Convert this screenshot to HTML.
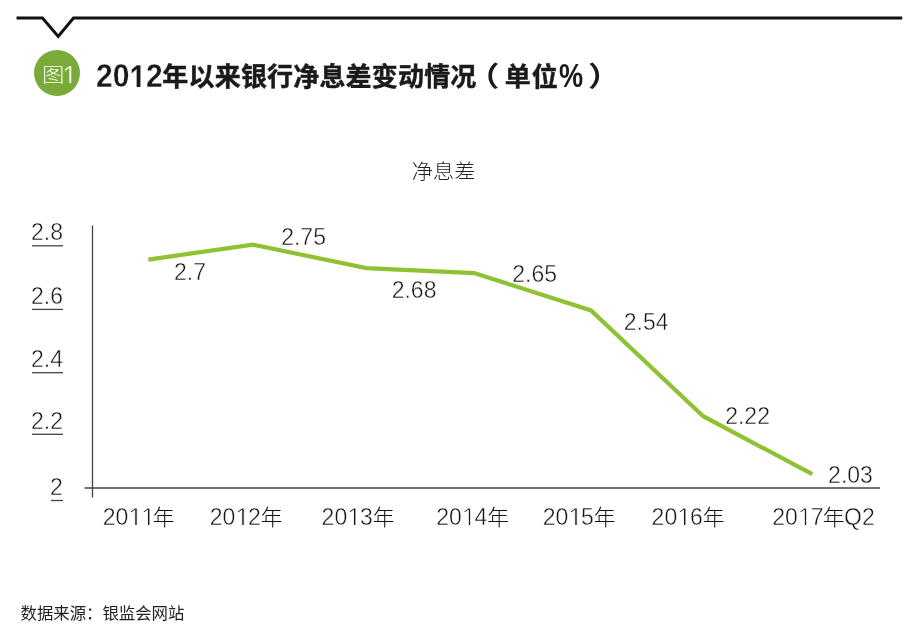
<!DOCTYPE html>
<html lang="zh-CN">
<head>
<meta charset="utf-8">
<title>2012年以来银行净息差变动情况（单位%）</title>
<style>
html,body{margin:0;padding:0;background:#fff;}
body{width:917px;height:636px;overflow:hidden;position:relative;
  font-family:"Liberation Sans","Noto Sans CJK SC",sans-serif;color:#333;}
svg{position:absolute;left:0;top:0;display:block;}
.t{position:absolute;white-space:nowrap;line-height:1;margin:0;}
.badge{left:33.5px;top:49.8px;width:46.7px;height:46.7px;border-radius:50%;background:#7aaa37;position:absolute;}
.badge span{position:absolute;left:0;top:0;color:#fff;white-space:nowrap;line-height:1;}
.badge .g{left:8.3px;top:15.9px;font-size:21.2px;font-weight:300;transform:scale(1.06,0.895);transform-origin:0 0;}
.badge .o{left:28.7px;top:12.8px;font-size:27px;font-weight:400;-webkit-text-stroke:0.5px #7aaa37;height:20.4px;overflow:hidden;}
h1.t{left:95.5px;top:59px;font-size:26px;font-weight:700;color:#1a1a1a;line-height:32px;letter-spacing:0.18px;}
h1 .n{font-size:32.3px;letter-spacing:0;-webkit-text-stroke:0.3px #fff;display:inline-block;position:relative;top:1.2px;transform:scaleX(0.93);transform-origin:0 50%;margin-right:-5.03px;}
h1 .o1{display:inline-block;overflow:hidden;font-size:39.2px;line-height:1;height:28.4px;margin:-3px -4.23px 0 0.39px;vertical-align:baseline;transform:scaleX(0.824);transform-origin:0 50%;}
h1 .c{margin-left:0;}
h1 .c,h1 .c2{-webkit-text-stroke:0.45px #1a1a1a;}
h1 .p1{margin-left:-5px;font-size:27.5px;font-weight:700;display:inline-block;transform:scaleX(1.2);transform-origin:100% 50%;}
h1 .c2{margin-left:5.5px;letter-spacing:1.1px;}
h1 .pc{-webkit-text-stroke:0;transform:scaleX(0.84);margin-left:-0.4px;margin-right:-5.2px;}
h1 .p2{margin-left:6px;font-size:27.5px;font-weight:700;display:inline-block;transform:scaleX(1.2);transform-origin:0 50%;}
.legend{left:411.8px;top:162.4px;font-size:21.2px;font-weight:300;color:#222;transform:scaleY(0.95);transform-origin:0 0;}
.n2{font-size:23px;-webkit-text-stroke:0.42px #fff;color:#161616;}
.one{display:inline-block;overflow:hidden;font-size:27px;line-height:1;height:20.1px;margin:0 -1.8px 0 -0.42px;-webkit-text-stroke:0.85px #fff;vertical-align:baseline;}
.cj{font-size:21.8px;font-weight:300;color:#111;margin-left:-0.2px;}
.xl{top:505.2px;}
.src{left:20.5px;top:605.1px;font-size:16.4px;font-weight:400;color:#222;}
</style>
</head>
<body>
<svg width="917" height="636" viewBox="0 0 917 636">
  <polyline points="16.5,18 42.5,18 58.2,36.5 73.5,18 902.2,18" fill="none" stroke="#111" stroke-width="3" stroke-linejoin="miter"/>
  <g stroke="#444" stroke-width="1.3" fill="none">
    <line x1="92.5" y1="225.5" x2="92.5" y2="497.5"/>
    <line x1="84.5" y1="488" x2="880" y2="488"/>
    <line x1="32" y1="245.8" x2="63" y2="245.8"/>
    <line x1="32" y1="309.4" x2="63" y2="309.4"/>
    <line x1="32" y1="372.7" x2="63" y2="372.7"/>
    <line x1="32" y1="434.3" x2="63" y2="434.3"/>
    <line x1="51" y1="500.5" x2="63" y2="500.5"/>
  </g>
  <polyline points="148.3,259.6 252.7,244.6 366.4,268.1 474.2,273.1 591,310.4 703.2,416.2 812.3,474.2" fill="none" stroke="#8fc132" stroke-width="4.2" stroke-linejoin="miter"/>
</svg>
<div class="badge"><span class="g">图</span><span class="o">1</span></div>
<h1 class="t"><span class="n">20<span class="o1">1</span>2</span><span class="c">年以来银行净息差变动情况</span><span class="p1">（</span><span class="c2">单位</span><span class="n pc">%</span><span class="p2">）</span></h1>
<div class="t legend">净息差</div>

<div class="t yl n2" style="left:31px;top:220.5px;">2.8</div>
<div class="t yl n2" style="left:31px;top:284.5px;">2.6</div>
<div class="t yl n2" style="left:31px;top:347.8px;">2.4</div>
<div class="t yl n2" style="left:31px;top:409.8px;">2.2</div>
<div class="t yl n2" style="left:50px;top:476.1px;">2</div>

<div class="t xl" style="left:102.7px;"><span class="n2">20<span class="one">1</span><span class="one">1</span></span><span class="cj" style="margin-left:-1.2px">年</span></div>
<div class="t xl" style="left:209.7px;"><span class="n2">20<span class="one">1</span>2</span><span class="cj">年</span></div>
<div class="t xl" style="left:321.6px;"><span class="n2">20<span class="one">1</span>3</span><span class="cj">年</span></div>
<div class="t xl" style="left:436.2px;"><span class="n2">20<span class="one">1</span>4</span><span class="cj">年</span></div>
<div class="t xl" style="left:542.7px;"><span class="n2">20<span class="one">1</span>5</span><span class="cj">年</span></div>
<div class="t xl" style="left:651.6px;"><span class="n2">20<span class="one">1</span>6</span><span class="cj">年</span></div>
<div class="t xl" style="left:772.3px;"><span class="n2">20<span class="one">1</span>7</span><span class="cj" style="margin-left:-0.8px">年</span><span class="n2" style="margin-left:-0.5px">Q2</span></div>

<div class="t dl n2" style="left:174px;top:260.6px;">2.7</div>
<div class="t dl n2" style="left:281.2px;top:226.1px;">2.75</div>
<div class="t dl n2" style="left:391.7px;top:279.4px;">2.68</div>
<div class="t dl n2" style="left:512.3px;top:263px;">2.65</div>
<div class="t dl n2" style="left:623.8px;top:310.6px;">2.54</div>
<div class="t dl n2" style="left:725.2px;top:404.5px;">2.22</div>
<div class="t dl n2" style="left:828.1px;top:464px;">2.03</div>

<div class="t src">数据来源：银监会网站</div>
</body>
</html>
